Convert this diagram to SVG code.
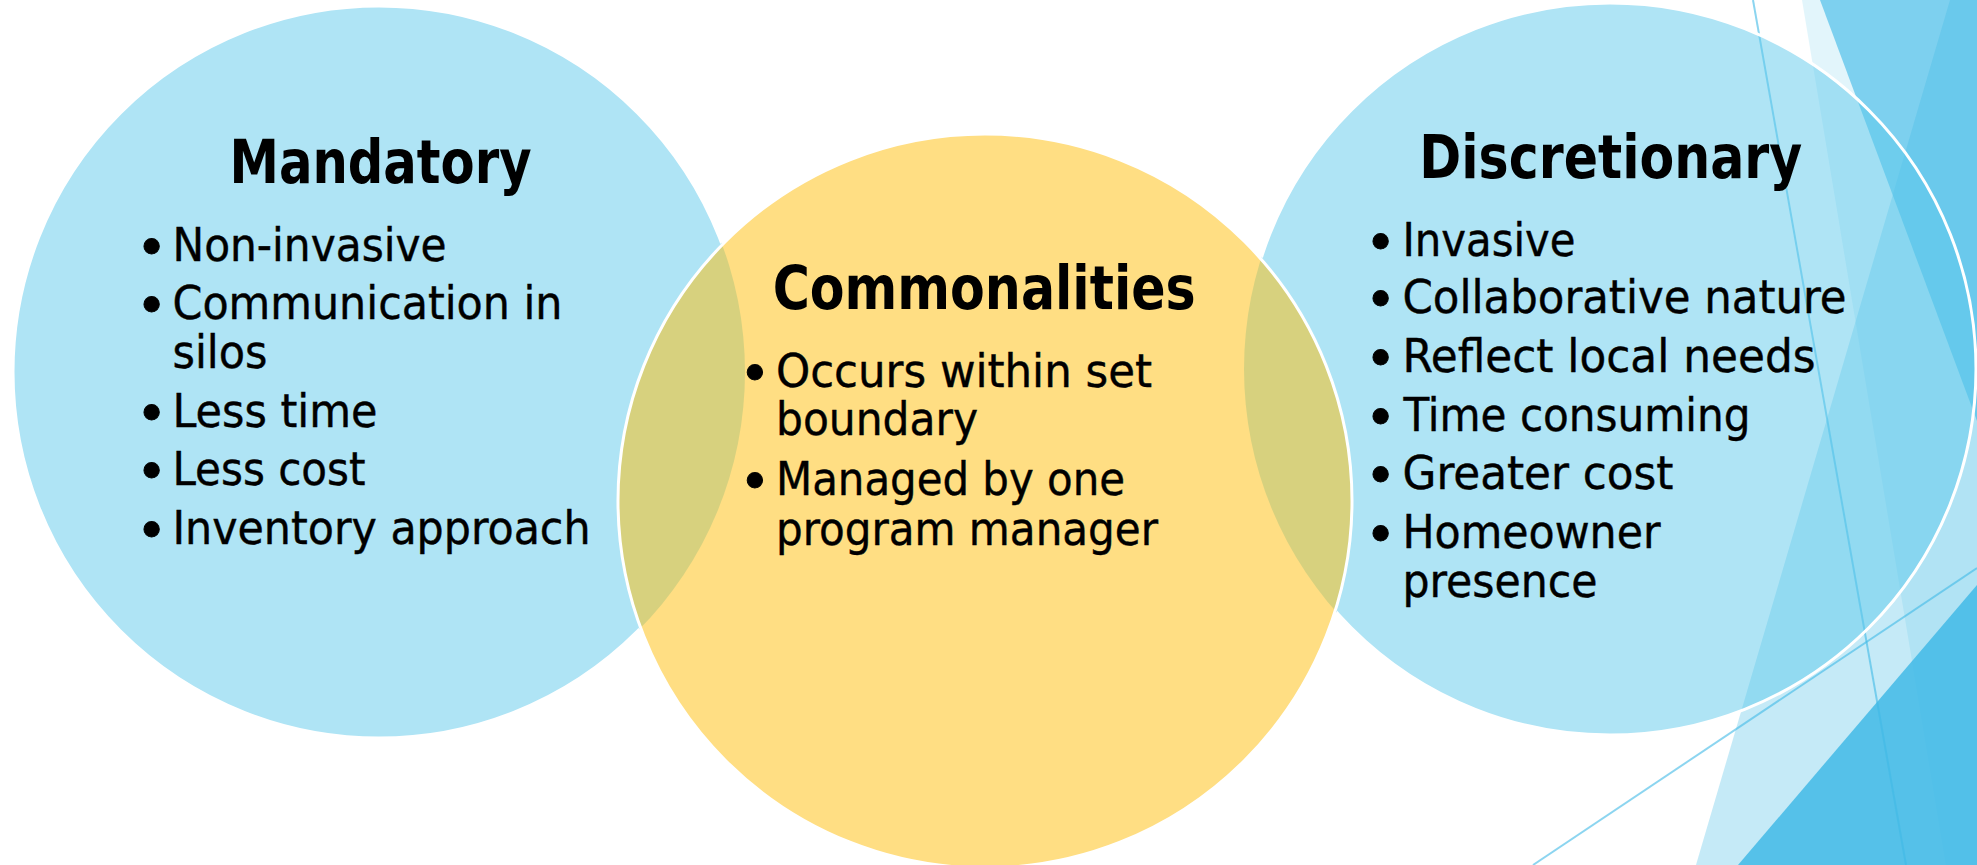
<svg xmlns="http://www.w3.org/2000/svg" width="1977" height="865" viewBox="0 0 1977 865">
<style>
  .deco { fill: #3FB9E6; }
  .thin { stroke: #3FB9E6; stroke-opacity: 0.6; stroke-width: 2; fill: none; }
  .blue { fill: #5FC9EB; fill-opacity: 0.5; }
  .yellow { fill: #FFBE07; fill-opacity: 0.5; stroke: #FFFFFF; stroke-width: 3; }
  .ring { fill: none; stroke: #FFFFFF; stroke-width: 3; }
  .title { font-family: "DejaVu Sans Condensed", "DejaVu Sans", sans-serif; font-stretch: condensed; font-weight: bold; font-size: 60px; fill: #000; text-anchor: middle; }
  .body { font-family: "DejaVu Sans Condensed", "DejaVu Sans", sans-serif; font-stretch: condensed; font-size: 46px; fill: #000; stroke: #000; stroke-width: 0.4px; }
  .bul { font-family: "DejaVu Sans", sans-serif; font-size: 53px; fill: #000; stroke: #000; stroke-width: 1px; text-anchor: middle; }
</style>
<defs>
  <mask id="noMid" maskUnits="userSpaceOnUse" x="0" y="0" width="1977" height="865">
    <rect x="0" y="0" width="1977" height="865" fill="#fff"/>
    <circle cx="985" cy="501" r="369" fill="#000"/>
  </mask>
</defs>
<rect x="0" y="0" width="1977" height="865" fill="#FFFFFF"/>
<g id="decoration">
  <polygon class="deco" fill-opacity="0.15" points="1802,0 1977,0 1977,865 1946,865"/>
  <polygon class="deco" fill-opacity="0.62" points="1820,0 1977,0 1977,421"/>
  <polygon class="deco" fill-opacity="0.3" points="1950,0 1977,0 1977,865 1696,865"/>
  <polygon class="deco" fill-opacity="0.84" points="1977,585 1977,865 1738,865"/>
  <line class="thin" x1="1753" y1="0" x2="1906" y2="865"/>
  <line class="thin" x1="1533" y1="865" x2="1977" y2="568"/>
</g>
<g id="node-mandatory">
  <circle class="blue" cx="379" cy="372" r="366"/>
</g>
<g id="node-discretionary">
  <circle class="blue" cx="1610" cy="369" r="366"/>
</g>
<g id="rings" mask="url(#noMid)">
  <circle class="ring" cx="379" cy="372" r="366"/>
  <circle class="ring" cx="1610" cy="369" r="366"/>
</g>
<g id="node-commonalities">
  <circle class="yellow" cx="985" cy="501" r="367"/>
</g>
<g id="connectors"></g>
<g id="text-mandatory">
  <text class="title" x="380.5" y="182.7" textLength="302" lengthAdjust="spacingAndGlyphs">Mandatory</text>
  <text class="bul" x="151.7" y="265.5">•</text>
  <text class="body" x="172.5" y="260.7" textLength="274" lengthAdjust="spacingAndGlyphs">Non-invasive</text>
  <text class="bul" x="151.7" y="323.8">•</text>
  <text class="body" x="172.5" y="319" textLength="390" lengthAdjust="spacingAndGlyphs">Communication in</text>
  <text class="body" x="172.5" y="368.3" textLength="95" lengthAdjust="spacingAndGlyphs">silos</text>
  <text class="bul" x="151.7" y="431.5">•</text>
  <text class="body" x="172.5" y="426.7" textLength="205" lengthAdjust="spacingAndGlyphs">Less time</text>
  <text class="bul" x="151.7" y="489.8">•</text>
  <text class="body" x="172.5" y="485" textLength="193" lengthAdjust="spacingAndGlyphs">Less cost</text>
  <text class="bul" x="151.7" y="549.1">•</text>
  <text class="body" x="172.5" y="544.3" textLength="418" lengthAdjust="spacingAndGlyphs">Inventory approach</text>
</g>
<g id="text-commonalities">
  <text class="title" x="984.2" y="309.3" textLength="423" lengthAdjust="spacingAndGlyphs">Commonalities</text>
  <text class="bul" x="755" y="391.5">•</text>
  <text class="body" x="776" y="386.7" textLength="376" lengthAdjust="spacingAndGlyphs">Occurs within set</text>
  <text class="body" x="776" y="435" textLength="202" lengthAdjust="spacingAndGlyphs">boundary</text>
  <text class="bul" x="755" y="499.8">•</text>
  <text class="body" x="776" y="495" textLength="349" lengthAdjust="spacingAndGlyphs">Managed by one</text>
  <text class="body" x="776" y="545" textLength="382" lengthAdjust="spacingAndGlyphs">program manager</text>
</g>
<g id="text-discretionary">
  <text class="title" x="1610.8" y="178.3" textLength="383" lengthAdjust="spacingAndGlyphs">Discretionary</text>
  <text class="bul" x="1380.7" y="260.5">•</text>
  <text class="body" x="1402.5" y="255.7" textLength="173" lengthAdjust="spacingAndGlyphs">Invasive</text>
  <text class="bul" x="1380.7" y="318.1">•</text>
  <text class="body" x="1402.5" y="313.3" textLength="444" lengthAdjust="spacingAndGlyphs">Collaborative nature</text>
  <text class="bul" x="1380.7" y="377.1">•</text>
  <text class="body" x="1402.5" y="372.3" textLength="413" lengthAdjust="spacingAndGlyphs">Reflect local needs</text>
  <text class="bul" x="1380.7" y="435.8">•</text>
  <text class="body" x="1403.5" y="431" textLength="347" lengthAdjust="spacingAndGlyphs">Time consuming</text>
  <text class="bul" x="1380.7" y="494.1">•</text>
  <text class="body" x="1402.5" y="489.3" textLength="271" lengthAdjust="spacingAndGlyphs">Greater cost</text>
  <text class="bul" x="1380.7" y="553.1">•</text>
  <text class="body" x="1402.5" y="548.3" textLength="258" lengthAdjust="spacingAndGlyphs">Homeowner</text>
  <text class="body" x="1402.5" y="597.3" textLength="195" lengthAdjust="spacingAndGlyphs">presence</text>
</g>
</svg>
